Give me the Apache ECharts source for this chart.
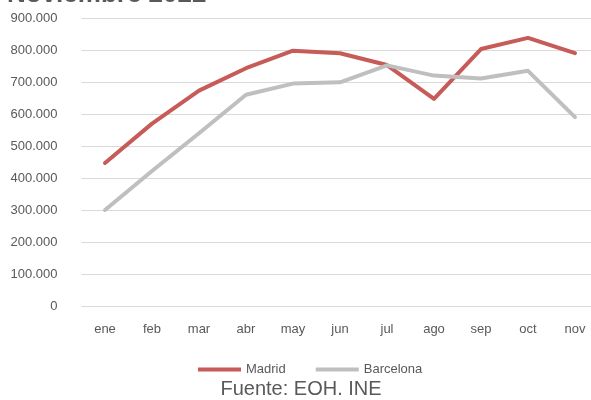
<!DOCTYPE html>
<html lang="es">
<head>
    <meta charset="UTF-8">
    <title>Viajeros</title>
    <script src="https://cdn.jsdelivr.net/npm/echarts@6/dist/echarts.min.js"></script>
    <style>
        * { margin: 0; padding: 0; }
        html, body { width: 591px; height: 400px; background: #fff; overflow: hidden; }
        #chart { width: 591px; height: 400px; }
    </style>
</head>
<body>
<div id="chart"></div>
<script>
    // datos
    let months = ['ene', 'feb', 'mar', 'abr', 'may', 'jun', 'jul', 'ago', 'sep', 'oct', 'nov']
    let madrid = [447000, 570000, 673000, 743000, 798000, 790000, 753000, 647000, 803000, 838000, 790000]
    let barcelona = [300000, 422000, 540000, 660000, 695000, 699000, 752000, 720000, 711000, 735000, 590000]

    const fmt = function (v) {
        return String(v).replace(/\B(?=(\d{3})+(?!\d))/g, '.')
    }

    const font = "'Liberation Sans', Arial, sans-serif"
    let chart = echarts.init(document.getElementById('chart'))
    chart.setOption({
        animation: false,
        textStyle: {fontFamily: font},
        graphic: [
            {
                type: 'text', x: 7, y: 7.5,
                style: {
                    text: 'Noviembre 2022', font: "bold 26px " + font, fill: '#595959',
                    verticalAlign: 'bottom'
                }
            },
            {
                type: 'text', x: 301, y: 379,
                style: {
                    text: 'Fuente: EOH. INE', font: "20px " + font, fill: '#595959',
                    align: 'center', verticalAlign: 'top'
                }
            }
        ],
        grid: {left: 81.5, top: 18, width: 517, height: 288, outerBoundsMode: 'none'},
        legend: {
            top: 358,
            left: 193,
            icon: 'rect',
            itemWidth: 43,
            itemHeight: 4,
            itemGap: 30,
            textStyle: {color: '#595959', fontSize: 13, fontFamily: font},
            data: ['Madrid', 'Barcelona']
        },
        xAxis: {
            type: 'category',
            data: months,
            boundaryGap: true,
            axisLine: {show: false},
            axisTick: {show: false},
            axisLabel: {color: '#595959', fontSize: 13, margin: 17}
        },
        yAxis: {
            type: 'value',
            min: 0,
            max: 900000,
            interval: 100000,
            axisLabel: {color: '#595959', fontSize: 13, margin: 24, formatter: fmt},
            splitLine: {lineStyle: {color: '#d9d9d9', width: 1}}
        },
        series: [
            {
                name: 'Madrid', type: 'line', data: madrid, symbol: 'none',
                itemStyle: {color: '#c65b58'},
                lineStyle: {width: 4, color: '#c65b58', cap: 'round', join: 'round'}
            },
            {
                name: 'Barcelona', type: 'line', data: barcelona, symbol: 'none',
                itemStyle: {color: '#bfbfbf'},
                lineStyle: {width: 4, color: '#bfbfbf', cap: 'round', join: 'round'}
            }
        ]
    })
</script>
</body>
</html>
